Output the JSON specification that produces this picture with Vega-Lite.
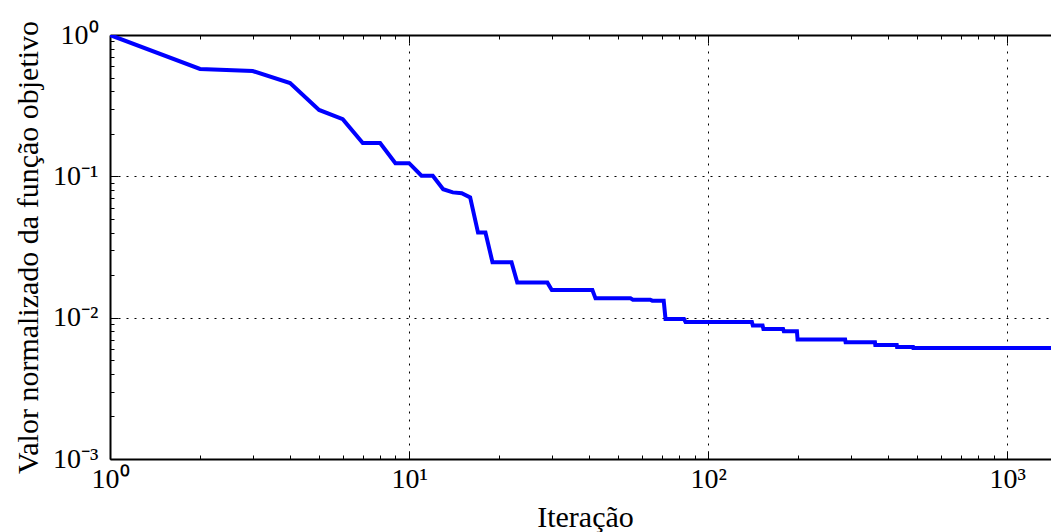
{
  "$schema": "https://vega.github.io/schema/vega-lite/v6.json",
  "width": 941,
  "height": 424,
  "autosize": "none",
  "padding": {"left": 110, "top": 35, "right": 0, "bottom": 73},
  "config": {
    "view": {"stroke": null},
    "font": "'Liberation Serif', 'Times New Roman', Times, serif",
    "axis": {
      "domainColor": "black",
      "domainWidth": 2,
      "tickColor": "black",
      "tickWidth": 1,
      "labelColor": "black",
      "titleColor": "black",
      "labelFont": "'Liberation Serif', 'Times New Roman', Times, serif",
      "titleFont": "'Liberation Serif', 'Times New Roman', Times, serif",
      "labelFontSize": 28,
      "titleFontSize": 30,
      "titleFontWeight": "normal",
      "labelFlush": false,
      "labelOverlap": false,
      "gridColor": "black",
      "gridDash": [2, 6],
      "gridWidth": 1
    }
  },
  "data": {
    "values": [
      {"iter": 1, "valor": 1.0},
      {"iter": 2, "valor": 0.575},
      {"iter": 3, "valor": 0.556},
      {"iter": 4, "valor": 0.457},
      {"iter": 5, "valor": 0.295},
      {"iter": 6, "valor": 0.254},
      {"iter": 7, "valor": 0.172},
      {"iter": 8, "valor": 0.172},
      {"iter": 9, "valor": 0.124},
      {"iter": 10, "valor": 0.124},
      {"iter": 11, "valor": 0.101},
      {"iter": 12, "valor": 0.101},
      {"iter": 13, "valor": 0.081},
      {"iter": 14, "valor": 0.077},
      {"iter": 15, "valor": 0.076},
      {"iter": 16, "valor": 0.071},
      {"iter": 17, "valor": 0.040},
      {"iter": 18, "valor": 0.040},
      {"iter": 19, "valor": 0.0247},
      {"iter": 22, "valor": 0.0247},
      {"iter": 23, "valor": 0.0177},
      {"iter": 29, "valor": 0.0177},
      {"iter": 30, "valor": 0.0157},
      {"iter": 41, "valor": 0.0157},
      {"iter": 42, "valor": 0.0137},
      {"iter": 55, "valor": 0.0137},
      {"iter": 56, "valor": 0.0134},
      {"iter": 64, "valor": 0.0134},
      {"iter": 65, "valor": 0.0132},
      {"iter": 71, "valor": 0.0132},
      {"iter": 72, "valor": 0.0098},
      {"iter": 83, "valor": 0.0098},
      {"iter": 84, "valor": 0.0093},
      {"iter": 140, "valor": 0.0093},
      {"iter": 141, "valor": 0.0088},
      {"iter": 152, "valor": 0.0088},
      {"iter": 153, "valor": 0.0083},
      {"iter": 178, "valor": 0.0083},
      {"iter": 179, "valor": 0.0080},
      {"iter": 198, "valor": 0.0080},
      {"iter": 199, "valor": 0.0070},
      {"iter": 287, "valor": 0.0070},
      {"iter": 288, "valor": 0.0067},
      {"iter": 361, "valor": 0.0067},
      {"iter": 362, "valor": 0.0064},
      {"iter": 427, "valor": 0.0064},
      {"iter": 428, "valor": 0.0062},
      {"iter": 484, "valor": 0.0062},
      {"iter": 485, "valor": 0.0061},
      {"iter": 1400, "valor": 0.0061}
    ]
  },
  "layer": [
    {
      "mark": {"type": "line", "color": "#0000ff", "strokeWidth": 4, "clip": true},
      "encoding": {
        "x": {
          "field": "iter",
          "type": "quantitative",
          "scale": {"type": "log", "domain": [1, 1400], "nice": false},
          "axis": {
            "orient": "bottom",
            "title": "Iteração",
            "values": [1,2,3,4,5,6,7,8,9,10,20,30,40,50,60,70,80,90,100,200,300,400,500,600,700,800,900,1000],
            "labelExpr": "datum.value == 1 ? '10⁰' : datum.value == 10 ? '10¹' : datum.value == 100 ? '10²' : datum.value == 1000 ? '10³' : ''",
            "grid": true,
            "gridOpacity": {"condition": {"test": "indexof([10,100,1000], datum.value) >= 0", "value": 1}, "value": 0},
            "tickSize": {"condition": {"test": "indexof([1,10,100,1000], datum.value) >= 0", "value": -8}, "value": -4},
            "labelPadding": 14,
            "titleX": 475,
            "titleY": 58,
            "titleBaseline": "middle",
            "titleAnchor": "middle"
          }
        },
        "y": {
          "field": "valor",
          "type": "quantitative",
          "scale": {"type": "log", "domain": [0.001, 1], "nice": false},
          "axis": {
            "orient": "left",
            "title": "Valor normalizado da função objetivo",
            "values": [0.001,0.002,0.003,0.004,0.005,0.006,0.007,0.008,0.009,0.01,0.02,0.03,0.04,0.05,0.06,0.07,0.08,0.09,0.1,0.2,0.3,0.4,0.5,0.6,0.7,0.8,0.9,1],
            "labelExpr": "datum.value == 1 ? '10⁰' : datum.value == 0.1 ? '10⁻¹' : datum.value == 0.01 ? '10⁻²' : datum.value == 0.001 ? '10⁻³' : ''",
            "grid": true,
            "gridOpacity": {"condition": {"test": "indexof([0.1,0.01], datum.value) >= 0", "value": 1}, "value": 0},
            "tickSize": {"condition": {"test": "indexof([1,0.1,0.01,0.001], datum.value) >= 0", "value": -8}, "value": -4},
            "labelPadding": 20,
            "titleX": -82,
            "titleY": 212,
            "titleAngle": -90,
            "titleBaseline": "middle",
            "titleAnchor": "middle"
          }
        }
      }
    },
    {
      "mark": {"type": "line", "opacity": 0},
      "encoding": {
        "x": {
          "field": "iter",
          "type": "quantitative",
          "axis": {
            "orient": "top",
            "title": null,
            "labels": false,
            "grid": false,
            "values": [1,2,3,4,5,6,7,8,9,10,20,30,40,50,60,70,80,90,100,200,300,400,500,600,700,800,900,1000],
            "tickSize": {"condition": {"test": "indexof([1,10,100,1000], datum.value) >= 0", "value": -8}, "value": -4}
          }
        },
        "y": {"field": "valor", "type": "quantitative"}
      }
    }
  ],
  "resolve": {"axis": {"x": "independent"}}
}
